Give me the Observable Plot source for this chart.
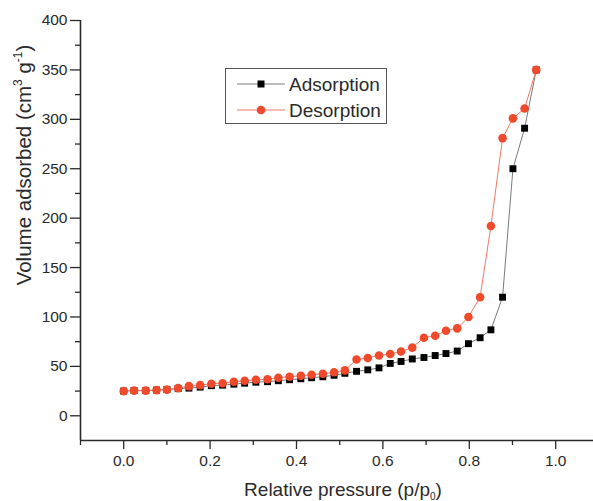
<!DOCTYPE html>
<html>
<head>
<meta charset="utf-8">
<script src="https://cdn.jsdelivr.net/npm/d3@7"></script>
<script src="https://cdn.jsdelivr.net/npm/@observablehq/plot@0.6"></script>
<style>
  html, body { margin: 0; padding: 0; background: #fff; }
  #wrap { position: relative; width: 593px; height: 501px; font-family: "Liberation Sans", Arial, sans-serif; }
  #legend { position: absolute; left: 0; top: 0; }
</style>
</head>
<body>
<div id="wrap"></div>
<script>
// ---- data ----
const pressure = [0.0,0.024,0.051,0.076,0.100,0.126,0.151,0.177,0.203,0.229,0.255,0.280,0.306,0.333,0.358,0.384,0.410,0.435,0.461,0.487,0.512,0.539,0.565,0.591,0.617,0.642,0.668,0.695,0.721,0.746,0.772,0.798,0.825,0.850,0.877,0.901,0.928,0.955];
const adsorption = [25,25.5,25.5,26,26.5,27.5,28,29,30.5,31,32,33,34,34.5,35.5,36.5,37.5,38.5,39.5,41,43,45,46.5,48.5,53,55,57.5,59,61,63,65.5,73,79,87,120,250,291,350];
const desorption = [25,25.5,25.5,26,26.5,28,30,31,32.5,33,34.5,35.5,36.5,37,38.5,39.5,40.5,41.5,42.5,44,46,57,58.5,61,62.5,65,69,79,81,86,88.5,100,120,192,281,301,311,350];
const seriesNames = ["Adsorption", "Desorption"];
const xMajor = [0, 0.2, 0.4, 0.6, 0.8, 1.0];
const xMinor = [-0.1, 0.1, 0.3, 0.5, 0.7, 0.9];
const yMajor = [0, 50, 100, 150, 200, 250, 300, 350, 400];
const yMinor = [25, 75, 125, 175, 225, 275, 325, 375];

const adsData = pressure.map((p, i) => ({x: p, y: adsorption[i]}));
const desData = pressure.map((p, i) => ({x: p, y: desorption[i]}));

const RED = "#ef4a2b";
const AXIS = "#2a2a2a";
const FONT = "Liberation Sans, Arial, sans-serif";

const chart = Plot.plot({
  width: 593,
  height: 501,
  marginLeft: 80,
  marginRight: 0,
  marginTop: 20,
  marginBottom: 61,
  style: {fontFamily: FONT, color: AXIS, background: "#fff", overflow: "visible"},
  x: {domain: [-0.1, 1.0875]},
  y: {domain: [-25, 400]},
  marks: [
    Plot.axisX({ticks: xMajor, tickFormat: d3.format(".1f"), tickSize: 9, tickPadding: 5, fontSize: 15.5, label: null, stroke: AXIS, strokeWidth: 1.3}),
    Plot.axisX({ticks: xMinor, tickSize: 5, text: null, label: null, stroke: AXIS, strokeWidth: 1.3}),
    Plot.axisY({ticks: yMajor, tickSize: 10, tickPadding: 3, fontSize: 15.5, label: null, stroke: AXIS, strokeWidth: 1.3}),
    Plot.axisY({ticks: yMinor, tickSize: 5, text: null, label: null, stroke: AXIS, strokeWidth: 1.3}),
    Plot.ruleY([-25], {stroke: AXIS, strokeWidth: 1.6}),
    Plot.ruleX([-0.1], {stroke: AXIS, strokeWidth: 1.6}),
    Plot.line(adsData, {x: "x", y: "y", stroke: "#7a7a7a", strokeWidth: 1}),
    Plot.line(desData, {x: "x", y: "y", stroke: "#f07868", strokeWidth: 1}),
    Plot.dot(adsData, {x: "x", y: "y", symbol: "square", r: 3.9, fill: "#000", stroke: "none"}),
    Plot.dot(desData, {x: "x", y: "y", symbol: "circle", r: 4.3, fill: RED, stroke: "none"})
  ]
});

const wrap = document.getElementById("wrap");
wrap.appendChild(chart);

// axis titles
const svg = d3.select(chart);
const yl = svg.append("text")
  .attr("transform", "translate(31,165) rotate(-90)")
  .attr("text-anchor", "middle")
  .attr("font-family", FONT)
  .attr("font-size", 20.5)
  .attr("fill", AXIS);
yl.append("tspan").text("Volume adsorbed (cm");
yl.append("tspan").attr("font-size", 12).attr("dy", -9).text("3");
yl.append("tspan").attr("dy", 9).text(" g");
yl.append("tspan").attr("font-size", 12).attr("dy", -9).text("-1");
yl.append("tspan").attr("dy", 9).text(")");

const xl = svg.append("text")
  .attr("x", 343).attr("y", 496)
  .attr("text-anchor", "middle")
  .attr("font-family", FONT)
  .attr("font-size", 19)
  .attr("fill", AXIS);
xl.append("tspan").text("Relative pressure (p/p");
xl.append("tspan").attr("font-size", 10).attr("dy", 4).text("0");
xl.append("tspan").attr("dy", -4).text(")");

// legend overlay
const leg = d3.select(wrap).append("svg")
  .attr("id", "legend")
  .attr("width", 593).attr("height", 501)
  .style("pointer-events", "none");
leg.append("rect").attr("x", 225.5).attr("y", 68.5).attr("width", 161).attr("height", 55)
  .attr("fill", "#fff").attr("stroke", "#555").attr("stroke-width", 1);
const rows = [
  {name: seriesNames[0], y: 84, line: "#7a7a7a", fill: "#000", sym: "square"},
  {name: seriesNames[1], y: 110, line: "#f07868", fill: RED, sym: "circle"}
];
rows.forEach(r => {
  leg.append("line").attr("x1", 237).attr("x2", 285).attr("y1", r.y).attr("y2", r.y)
    .attr("stroke", r.line).attr("stroke-width", 1);
  if (r.sym === "square") {
    leg.append("rect").attr("x", 257.5).attr("y", r.y - 3.5).attr("width", 7).attr("height", 7).attr("fill", r.fill);
  } else {
    leg.append("circle").attr("cx", 261).attr("cy", r.y).attr("r", 4.3).attr("fill", r.fill);
  }
  leg.append("text").attr("x", 289).attr("y", r.y + 6.5)
    .attr("font-family", FONT).attr("font-size", 19).attr("fill", AXIS).text(r.name);
});
</script>
</body>
</html>
